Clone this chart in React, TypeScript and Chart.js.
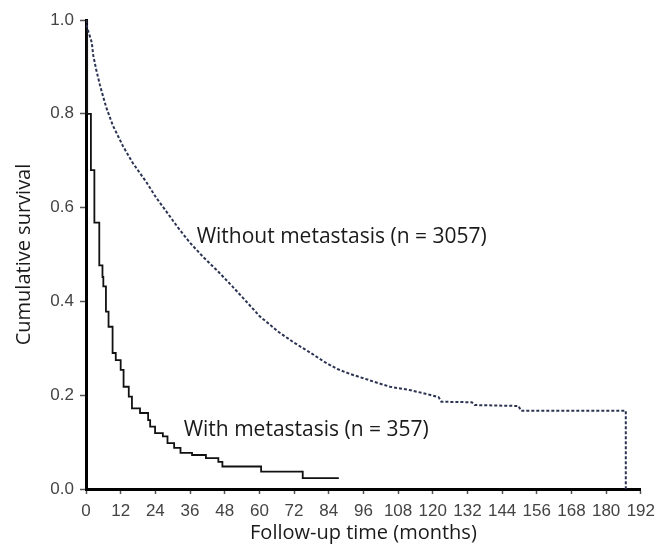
import React, { useEffect, useRef } from "react";
import { Chart, registerables } from "chart.js";

Chart.register(...registerables);

// ---- data ----
const xTicks = [0, 12, 24, 36, 48, 60, 72, 84, 96, 108, 120, 132, 144, 156, 168, 180, 192];
const yTicks = [0, 0.2, 0.4, 0.6, 0.8, 1.0];

// Without metastasis (dotted curve) – months / cumulative survival
const withoutTime = [0, 0.3, 1.0, 2.0, 2.5, 3.5, 4.8, 6.0, 7.1, 9.3, 12.8, 16.2, 20.8, 24.2, 28.0, 32.0, 36.0, 40.5, 46.0, 50.5, 55.0, 60.0, 66.4, 72.0, 77.8, 82.5, 86.9, 91.5, 96.1, 100.5, 105.2, 112.0, 118.9, 122.0, 123.0, 133.5, 134.5, 149.7, 150.5, 186.8, 186.8];
const withoutSurv = [1.0, 0.985, 0.972, 0.952, 0.925, 0.895, 0.862, 0.835, 0.812, 0.775, 0.731, 0.695, 0.655, 0.622, 0.59, 0.556, 0.525, 0.495, 0.462, 0.433, 0.403, 0.369, 0.336, 0.312, 0.29, 0.271, 0.256, 0.245, 0.236, 0.227, 0.218, 0.211, 0.201, 0.196, 0.186, 0.185, 0.179, 0.177, 0.167, 0.167, 0.0];

// With metastasis (solid step curve) – time of each drop / new survival
const withTime = [0, 0.4, 1.7, 2.9, 4.6, 5.7, 6.0, 6.9, 7.8, 9.2, 10.3, 12.0, 13.0, 14.8, 15.9, 18.7, 21.5, 22.2, 23.9, 26.6, 28.2, 30.5, 32.7, 36.7, 41.5, 45.8, 47.2, 60.6, 75.0, 87.5];
const withSurv = [1.0, 0.8, 0.68, 0.568, 0.477, 0.452, 0.432, 0.378, 0.346, 0.29, 0.275, 0.254, 0.218, 0.197, 0.172, 0.162, 0.147, 0.133, 0.119, 0.112, 0.098, 0.0875, 0.077, 0.0725, 0.066, 0.058, 0.048, 0.037, 0.023, 0.023];

const withoutLabel = "Without metastasis (n = 3057)";
const withLabel = "With metastasis (n = 357)";
const withoutLabelAt = { t: 38.3, s: 0.538 };
const withLabelAt = { t: 33.8, s: 0.126 };

const xTitle = "Follow-up time (months)";
const yTitle = "Cumulative survival";

const TEXT_FONT = '"Open Sans", sans-serif';
const TICK_FONT = '"Liberation Sans", Arial, sans-serif';

const annotate = {
  id: "annotate",
  afterDatasetsDraw(chart: any) {
    const { ctx, chartArea, scales } = chart;
    const xs = scales.x;
    const ys = scales.y;
    ctx.save();
    ctx.fillStyle = "#1a1a1a";
    ctx.font = `21px ${TEXT_FONT}`;
    ctx.textAlign = "left";
    ctx.textBaseline = "middle";
    ctx.fillText(withoutLabel, xs.getPixelForValue(withoutLabelAt.t), ys.getPixelForValue(withoutLabelAt.s));
    ctx.fillText(withLabel, xs.getPixelForValue(withLabelAt.t), ys.getPixelForValue(withLabelAt.s));

    // axis titles
    ctx.font = `20px ${TEXT_FONT}`;
    ctx.textAlign = "center";
    ctx.fillText(xTitle, (chartArea.left + chartArea.right) / 2, chartArea.bottom + 44);
    ctx.translate(chartArea.left - 62, (chartArea.top + chartArea.bottom) / 2);
    ctx.rotate(-Math.PI / 2);
    ctx.fillText(yTitle, 0, 0);
    ctx.restore();
  },
};

export default function App() {
  const ref = useRef<HTMLCanvasElement | null>(null);

  useEffect(() => {
    if (!ref.current) return;
    const chart = new Chart(ref.current, {
      type: "line",
      data: {
        datasets: [
          {
            label: withoutLabel,
            data: withoutTime.map((t, i) => ({ x: t, y: withoutSurv[i] })),
            borderColor: "#2b3352",
            borderWidth: 2,
            borderDash: [3, 2],
            pointRadius: 0,
            tension: 0,
            fill: false,
          },
          {
            label: withLabel,
            data: withTime.map((t, i) => ({ x: t, y: withSurv[i] })),
            borderColor: "#111111",
            borderWidth: 1.8,
            stepped: "before",
            pointRadius: 0,
            fill: false,
          },
        ],
      },
      options: {
        responsive: false,
        animation: false,
        devicePixelRatio: 1,
        layout: { padding: { top: 20, right: 15, left: 0, bottom: 0 } },
        plugins: { legend: { display: false }, tooltip: { enabled: false } },
        scales: {
          x: {
            type: "linear",
            min: 0,
            max: 192,
            afterBuildTicks: (s: any) => {
              s.ticks = xTicks.map((v) => ({ value: v }));
            },
            afterFit: (s: any) => {
              s.height = 60;
            },
            ticks: {
              autoSkip: false,
              maxRotation: 0,
              padding: 7,
              color: "#444",
              font: { family: TICK_FONT, size: 17 },
            },
            grid: {
              display: true,
              drawOnChartArea: false,
              drawTicks: true,
              tickLength: 5,
              tickColor: "#555",
              tickWidth: 1.5,
            },
            border: { display: true, color: "#000", width: 3 },
          },
          y: {
            type: "linear",
            min: 0,
            max: 1,
            afterBuildTicks: (s: any) => {
              s.ticks = yTicks.map((v) => ({ value: v }));
            },
            afterFit: (s: any) => {
              s.width = 86;
            },
            ticks: {
              padding: 6,
              color: "#444",
              font: { family: TICK_FONT, size: 17 },
              callback: (v: any) => Number(v).toFixed(1),
            },
            grid: {
              display: true,
              drawOnChartArea: false,
              drawTicks: true,
              tickLength: 6,
              tickColor: "#555",
              tickWidth: 1.5,
            },
            border: { display: true, color: "#000", width: 3 },
          },
        },
      },
      plugins: [annotate],
    });
    return () => chart.destroy();
  }, []);

  return (
    <div style={{ position: "absolute", left: 0, top: 0, width: 662, height: 549, background: "#fff" }}>
      <canvas ref={ref} width={662} height={549} style={{ width: 662, height: 549, display: "block" }} />
    </div>
  );
}
